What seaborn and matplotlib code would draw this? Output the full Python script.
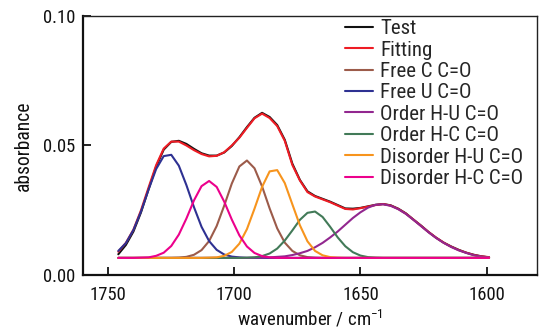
import matplotlib
matplotlib.use("Agg")
import matplotlib.pyplot as plt
from matplotlib import font_manager
from matplotlib.font_manager import FontProperties
import pandas as pd
import seaborn as sns

# ── values (wavenumber step of 3 cm-1) ──────────────────────────────────────
wavenumber = [1746, 1743, 1740, 1737, 1734, 1731, 1728, 1725, 1722, 1719,
              1716, 1713, 1710, 1707, 1704, 1701, 1698, 1695, 1692, 1689,
              1686, 1683, 1680, 1677, 1674, 1671, 1668, 1665, 1662, 1659,
              1656, 1653, 1650, 1647, 1644, 1641, 1638, 1635, 1632, 1629,
              1626, 1623, 1620, 1617, 1614, 1611, 1608, 1605, 1602, 1599]

test = [0.0080, 0.0116, 0.0168, 0.0242, 0.0331, 0.0418, 0.0484, 0.0514, 0.0518, 0.0506,
        0.0487, 0.0470, 0.0461, 0.0461, 0.0473, 0.0498, 0.0532, 0.0571, 0.0607, 0.0626,
        0.0610, 0.0579, 0.0522, 0.0430, 0.0367, 0.0323, 0.0305, 0.0294, 0.0283, 0.0270,
        0.0257, 0.0256, 0.0259, 0.0265, 0.0271, 0.0274, 0.0269, 0.0256, 0.0238, 0.0214,
        0.0191, 0.0166, 0.0144, 0.0125, 0.0110, 0.0097, 0.0086, 0.0078, 0.0072, 0.0068]

fitting = [0.0090, 0.0124, 0.0175, 0.0250, 0.0338, 0.0424, 0.0488, 0.0515, 0.0515, 0.0500,
           0.0482, 0.0467, 0.0458, 0.0460, 0.0474, 0.0500, 0.0530, 0.0568, 0.0605, 0.0623,
           0.0606, 0.0575, 0.0518, 0.0425, 0.0365, 0.0320, 0.0303, 0.0292, 0.0281, 0.0268,
           0.0255, 0.0253, 0.0258, 0.0264, 0.0270, 0.0274, 0.0268, 0.0255, 0.0237, 0.0214,
           0.0190, 0.0166, 0.0144, 0.0125, 0.0109, 0.0096, 0.0086, 0.0077, 0.0072, 0.0069]

free_c = [0.0066, 0.0066, 0.0066, 0.0066, 0.0066, 0.0066, 0.0066, 0.0066, 0.0067, 0.0070,
          0.0078, 0.0096, 0.0131, 0.0189, 0.0268, 0.0353, 0.0419, 0.0442, 0.0412, 0.0342,
          0.0257, 0.0180, 0.0125, 0.0093, 0.0076, 0.0069, 0.0067, 0.0066, 0.0066, 0.0066,
          0.0066, 0.0066, 0.0066, 0.0066, 0.0066, 0.0066, 0.0066, 0.0066, 0.0066, 0.0066,
          0.0066, 0.0066, 0.0066, 0.0066, 0.0066, 0.0066, 0.0066, 0.0066, 0.0066, 0.0066]

free_u = [0.0093, 0.0123, 0.0174, 0.0245, 0.0330, 0.0409, 0.0459, 0.0464, 0.0422, 0.0347,
          0.0262, 0.0186, 0.0131, 0.0097, 0.0079, 0.0071, 0.0068, 0.0066, 0.0066, 0.0066,
          0.0066, 0.0066, 0.0066, 0.0066, 0.0066, 0.0066, 0.0066, 0.0066, 0.0066, 0.0066,
          0.0066, 0.0066, 0.0066, 0.0066, 0.0066, 0.0066, 0.0066, 0.0066, 0.0066, 0.0066,
          0.0066, 0.0066, 0.0066, 0.0066, 0.0066, 0.0066, 0.0066, 0.0066, 0.0066, 0.0066]

order_hu = [0.0066, 0.0066, 0.0066, 0.0066, 0.0066, 0.0066, 0.0066, 0.0066, 0.0066, 0.0066,
            0.0066, 0.0066, 0.0066, 0.0066, 0.0066, 0.0066, 0.0066, 0.0066, 0.0067, 0.0067,
            0.0068, 0.0070, 0.0072, 0.0077, 0.0084, 0.0093, 0.0107, 0.0124, 0.0145, 0.0168,
            0.0194, 0.0220, 0.0242, 0.0260, 0.0271, 0.0273, 0.0267, 0.0254, 0.0236, 0.0213,
            0.0189, 0.0165, 0.0143, 0.0124, 0.0108, 0.0095, 0.0085, 0.0076, 0.0071, 0.0068]

order_hc = [0.0066, 0.0066, 0.0066, 0.0066, 0.0066, 0.0066, 0.0066, 0.0066, 0.0066, 0.0066,
            0.0066, 0.0066, 0.0066, 0.0066, 0.0066, 0.0066, 0.0066, 0.0067, 0.0068, 0.0073,
            0.0083, 0.0102, 0.0133, 0.0172, 0.0213, 0.0240, 0.0245, 0.0224, 0.0186, 0.0145,
            0.0111, 0.0088, 0.0075, 0.0069, 0.0067, 0.0066, 0.0066, 0.0066, 0.0066, 0.0066,
            0.0066, 0.0066, 0.0066, 0.0066, 0.0066, 0.0066, 0.0066, 0.0066, 0.0066, 0.0066]

disorder_hu = [0.0066, 0.0066, 0.0066, 0.0066, 0.0066, 0.0066, 0.0066, 0.0066, 0.0066, 0.0066,
               0.0066, 0.0066, 0.0067, 0.0068, 0.0074, 0.0089, 0.0121, 0.0177, 0.0256, 0.0340,
               0.0400, 0.0405, 0.0355, 0.0273, 0.0192, 0.0130, 0.0093, 0.0076, 0.0069, 0.0067,
               0.0066, 0.0066, 0.0066, 0.0066, 0.0066, 0.0066, 0.0066, 0.0066, 0.0066, 0.0066,
               0.0066, 0.0066, 0.0066, 0.0066, 0.0066, 0.0066, 0.0066, 0.0066, 0.0066, 0.0066]

disorder_hc = [0.0066, 0.0066, 0.0066, 0.0067, 0.0068, 0.0074, 0.0086, 0.0112, 0.0156, 0.0218,
               0.0288, 0.0343, 0.0363, 0.0340, 0.0283, 0.0214, 0.0153, 0.0110, 0.0085, 0.0073,
               0.0068, 0.0066, 0.0066, 0.0066, 0.0066, 0.0066, 0.0066, 0.0066, 0.0066, 0.0066,
               0.0066, 0.0066, 0.0066, 0.0066, 0.0066, 0.0066, 0.0066, 0.0066, 0.0066, 0.0066,
               0.0066, 0.0066, 0.0066, 0.0066, 0.0066, 0.0066, 0.0066, 0.0066, 0.0066, 0.0066]

series_names = ["Test", "Fitting", "Free C C=O", "Free U C=O", "Order H-U C=O",
                "Order H-C C=O", "Disorder H-U C=O", "Disorder H-C C=O"]
series_values = [test, fitting, free_c, free_u, order_hu, order_hc, disorder_hu, disorder_hc]
colors = ["#111111", "#ee1c24", "#9c5b4a", "#2e3192", "#92278f",
          "#427a58", "#f7941d", "#ec008c"]

# long table for seaborn
df = pd.concat(
    [pd.DataFrame({"wavenumber": wavenumber, "absorbance": vals, "series": name})
     for name, vals in zip(series_names, series_values)],
    ignore_index=True,
)

sns.set_theme(style="ticks")

# the original text is a narrow Arial-like face; use a condensed one if any is installed
family, stretch = "Liberation Sans", "normal"
condensed = ("condensed", "semi-condensed", "extra-condensed", "ultra-condensed")
for want in ["Liberation Sans Narrow", "Roboto Condensed", "Noto Sans", "Open Sans",
             "Roboto", "Lato", "Inter", "DejaVu Sans"]:
    hits = [f for f in font_manager.fontManager.ttflist
            if f.name == want and f.style == "normal"
            and (want.endswith(("Narrow", "Condensed")) or f.stretch in condensed)]
    if hits:
        family, stretch = want, hits[0].stretch
        break
plt.rcParams["font.family"] = [family, "DejaVu Sans"]
plt.rcParams["font.stretch"] = stretch
plt.rcParams["mathtext.default"] = "regular"

fig = plt.figure(figsize=(5.4, 3.33), dpi=100)
ax = fig.add_axes([0.1537, 0.1742, 0.8407, 0.7778])
renderer = fig.canvas.get_renderer()


def size_for(text, target_px, ismath=False):
    # font size that gives the text the pixel width it has in the reference
    prop = FontProperties(family=[family, "DejaVu Sans"], stretch=stretch, size=10)
    w, _, _ = renderer.get_text_width_height_descent(text, prop, ismath)
    return 10 * target_px / w


tick_size = size_for("1750", 36.7)
legend_size = size_for("Disorder H-U C=O", 143)
xlabel_size = size_for("wavenumber / cm$^{-1}$", 147, ismath=True)
ylabel_size = size_for("absorbance", 90)

sns.lineplot(data=df, x="wavenumber", y="absorbance", hue="series",
             hue_order=series_names, palette=dict(zip(series_names, colors)),
             sort=False, estimator=None, linewidth=1.5, ax=ax)

ax.set_xlim(1760, 1580)
ax.set_ylim(0, 0.10)
ax.set_xticks([1750, 1700, 1650, 1600])
ax.set_yticks([0.0, 0.05, 0.10])
ax.set_yticklabels(["0.00", "0.05", "0.10"])
ax.tick_params(direction="in", length=6, width=1.3, labelsize=tick_size,
               color="#111111", labelcolor="#111111")
ax.tick_params(axis="x", pad=8)
ax.tick_params(axis="y", pad=5.5)

ax.set_xlabel("wavenumber / cm$^{-1}$", fontsize=xlabel_size, color="#111111")
ax.set_ylabel("absorbance", fontsize=ylabel_size, color="#111111")
ax.xaxis.set_label_coords(0.5, -0.13)
ax.yaxis.set_label_coords(-0.11, 0.5)

for side in ["left", "bottom"]:
    ax.spines[side].set_linewidth(1.6)
    ax.spines[side].set_color("#111111")
for side in ["top", "right"]:
    ax.spines[side].set_linewidth(1.0)
    ax.spines[side].set_color("#222222")

# legend rows sit 21.4 px apart, first row centred on y = 26.7 px
leg_px = legend_size * fig.dpi / 72
lp_h = renderer.get_text_width_height_descent(
    "lp", FontProperties(family=[family, "DejaVu Sans"], stretch=stretch, size=legend_size), False)[1]
handles, labels = ax.get_legend_handles_labels()
ax.legend(handles, labels, loc="upper left",
          bbox_to_anchor=(345 / 540, 1 - (26.7 - 0.36 * leg_px) / 333),
          bbox_transform=fig.transFigure, frameon=False, fontsize=legend_size,
          handlelength=28 / leg_px, handletextpad=7 / leg_px,
          labelspacing=max(21.4 - lp_h, 0) / leg_px, borderpad=0, borderaxespad=0)

fig.savefig("out.png", dpi=100)
plt.close(fig)
